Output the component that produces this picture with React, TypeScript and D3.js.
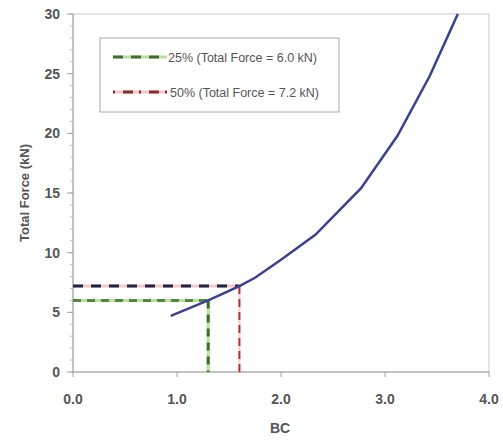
import React from "react";
import * as d3 from "d3";

const curveBC = [0.94, 1.3, 1.6, 1.75, 2.0, 2.33, 2.77, 3.12, 3.43, 3.7];
const curveForce = [4.7, 6.0, 7.2, 7.9, 9.4, 11.5, 15.4, 19.8, 24.8, 30.0];
const xTicks = [0, 1, 2, 3, 4];
const yTicks = [0, 5, 10, 15, 20, 25, 30];
const yMinor = d3.range(0, 31, 1);
const level25 = { bc: 1.3, force: 6.0, label: "25% (Total Force = 6.0 kN)" };
const level50 = { bc: 1.6, force: 7.2, label: "50% (Total Force = 7.2 kN)" };

export default function App() {
  const W = 503, H = 440;
  const x = d3.scaleLinear().domain([0, 4]).range([73, 489]);
  const y = d3.scaleLinear().domain([0, 30]).range([372, 14]);
  const line = d3.line<number>().x((d, i) => x(curveBC[i])).y((d, i) => y(curveForce[i]));
  const font = "'Liberation Sans', Arial, sans-serif";
  const axisCol = "#a0a0a0";
  const txt = "#555";
  return (
    <svg width={W} height={H} style={{ position: "absolute", left: 0, top: 0, background: "#fff" }}>
      <rect x={x(0)} y={y(30)} width={x(4) - x(0)} height={y(0) - y(30)} fill="none" stroke="#c8c8c8" strokeWidth={1} />
      {yMinor.map((v) => (
        <line key={"m" + v} x1={x(0) - 3} x2={x(0)} y1={y(v)} y2={y(v)} stroke="#c0c0c0" strokeWidth={1} />
      ))}
      {yTicks.map((v) => (
        <g key={"y" + v}>
          <line x1={x(0) - 6} x2={x(0)} y1={y(v)} y2={y(v)} stroke={axisCol} />
          <text x={60} y={y(v) + 5} textAnchor="end" fontFamily={font} fontSize={14} fontWeight="bold" fill={txt}>{v}</text>
        </g>
      ))}
      {xTicks.map((v) => (
        <g key={"x" + v}>
          <line x1={x(v)} x2={x(v)} y1={y(0)} y2={y(0) + 5} stroke={axisCol} />
          <text x={x(v)} y={404} textAnchor="middle" fontFamily={font} fontSize={14} fontWeight="bold" fill={txt}>{v.toFixed(1)}</text>
        </g>
      ))}
      <line x1={x(0)} x2={x(0)} y1={y(0)} y2={y(30)} stroke={axisCol} />
      <line x1={x(0)} x2={x(4)} y1={y(0)} y2={y(0)} stroke={axisCol} />
      <text x={280} y={433} textAnchor="middle" fontFamily={font} fontSize={14} fontWeight="bold" fill={txt}>BC</text>
      <text transform={`translate(29,${(y(0) + y(30)) / 2}) rotate(-90)`} textAnchor="middle" fontFamily={font} fontSize={13} fontWeight="bold" fill={txt}>Total Force (kN)</text>

      {/* 25% lines */}
      <line x1={x(0)} x2={x(level25.bc)} y1={y(level25.force)} y2={y(level25.force)} stroke="#b8e0a0" strokeWidth={3} />
      <line x1={x(0)} x2={x(level25.bc)} y1={y(level25.force)} y2={y(level25.force)} stroke="#4f8a3a" strokeWidth={3} strokeDasharray="8,6" />
      <line x1={x(level25.bc)} x2={x(level25.bc)} y1={y(level25.force)} y2={y(0)} stroke="#b8e0a0" strokeWidth={3} />
      <line x1={x(level25.bc)} x2={x(level25.bc)} y1={y(level25.force)} y2={y(0)} stroke="#3c6e30" strokeWidth={3} strokeDasharray="8,6" />
      {/* 50% lines */}
      <line x1={x(0)} x2={x(level50.bc)} y1={y(level50.force)} y2={y(level50.force)} stroke="#f0c8c8" strokeWidth={3} />
      <line x1={x(0)} x2={x(level50.bc)} y1={y(level50.force)} y2={y(level50.force)} stroke="#23233f" strokeWidth={3} strokeDasharray="10,8" />
      <line x1={x(level50.bc)} x2={x(level50.bc)} y1={y(level50.force)} y2={y(0)} stroke="#f0d0d0" strokeWidth={2} />
      <line x1={x(level50.bc)} x2={x(level50.bc)} y1={y(level50.force)} y2={y(0)} stroke="#b03535" strokeWidth={2} strokeDasharray="8,5" />

      <path d={line(curveForce) || ""} fill="none" stroke="#3b4190" strokeWidth={2.5} />

      {/* legend */}
      <rect x={100} y={38} width={239} height={74} fill="#fff" stroke="#a8a8a8" strokeWidth={1} />
      <line x1={113} x2={167} y1={57} y2={57} stroke="#b8e0a0" strokeWidth={3} />
      <line x1={113} x2={167} y1={57} y2={57} stroke="#3c6e30" strokeWidth={3} strokeDasharray="10,8" />
      <text x={168} y={62} fontFamily={font} fontSize={12.5} fill={txt}>{level25.label}</text>
      <line x1={113} x2={167} y1={92} y2={92} stroke="#f0c8c8" strokeWidth={3} />
      <line x1={113} x2={167} y1={92} y2={92} stroke="#8a2a2a" strokeWidth={3} strokeDasharray="2,8,10,6" />
      <text x={170} y={97} fontFamily={font} fontSize={12.5} fill={txt}>{level50.label}</text>
    </svg>
  );
}
